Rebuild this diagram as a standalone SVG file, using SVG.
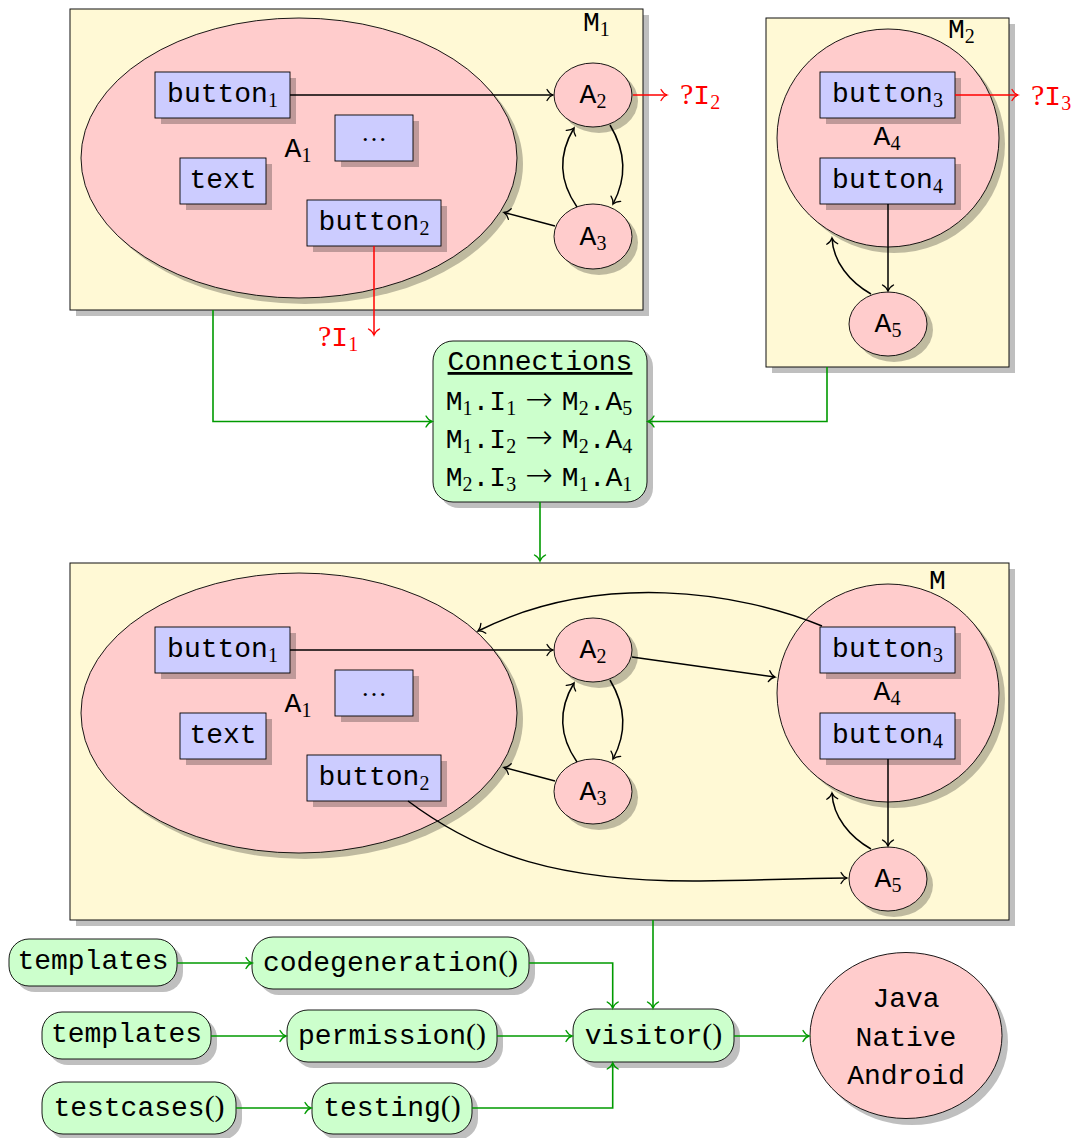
<svg xmlns="http://www.w3.org/2000/svg" width="1083" height="1138" viewBox="0 0 1083 1138">
  <defs>
    <style>
      .sh { fill: #000; fill-opacity: 0.25; stroke: none; }
      .mod { fill: #fff9d5; stroke: #111; stroke-width: 1; }
      .st { fill: #ffcccc; stroke: #000; stroke-width: 0.9; }
      .btn { fill: #ccccff; stroke: #000; stroke-width: 0.9; }
      .pill { fill: #ccffcc; stroke: #000; stroke-width: 0.9; }
      .tt { font-family: "Liberation Mono", "Courier New", monospace; font-size: 28px; fill: #000; }
      .mid { text-anchor: middle; }
      .sub { font-family: "Liberation Serif", "Times New Roman", serif; font-size: 20px; }
      .rm { font-family: "Liberation Serif", "Times New Roman", serif; }
      .arr { font-family: "DejaVu Sans", sans-serif; font-size: 33px; font-weight: 200; }
      .par { font-family: "Liberation Serif", "Times New Roman", serif; font-size: 30px; }
      .red { fill: #ff0000; }
      .k { fill: none; stroke: #000; stroke-width: 1.5; marker-end: url(#ak); }
      .r { fill: none; stroke: #ff0000; stroke-width: 1.5; marker-end: url(#ar); }
      .g { fill: none; stroke: #009a00; stroke-width: 1.6; marker-end: url(#ag); }
    </style>
    <marker id="ak" viewBox="-8 -7 10 14" refX="0" refY="0" markerWidth="10" markerHeight="14" markerUnits="userSpaceOnUse" orient="auto" overflow="visible">
      <path d="M-6,-5.5 C-4,-2 -1.5,-0.5 0,0 C-1.5,0.5 -4,2 -6,5.5" fill="none" stroke="#000" stroke-width="1.3" stroke-linecap="round"/>
    </marker>
    <marker id="ar" viewBox="-8 -7 10 14" refX="0" refY="0" markerWidth="10" markerHeight="14" markerUnits="userSpaceOnUse" orient="auto" overflow="visible">
      <path d="M-6,-5.5 C-4,-2 -1.5,-0.5 0,0 C-1.5,0.5 -4,2 -6,5.5" fill="none" stroke="#ff0000" stroke-width="1.3" stroke-linecap="round"/>
    </marker>
    <marker id="ag" viewBox="-8 -7 10 14" refX="0" refY="0" markerWidth="10" markerHeight="14" markerUnits="userSpaceOnUse" orient="auto" overflow="visible">
      <path d="M-6,-5.5 C-4,-2 -1.5,-0.5 0,0 C-1.5,0.5 -4,2 -6,5.5" fill="none" stroke="#009a00" stroke-width="1.4" stroke-linecap="round"/>
    </marker>
  </defs>

  <!-- module M1 -->
  <g id="M1">
    <rect class="sh" x="76" y="15" width="573" height="301"/>
    <rect class="mod" x="70" y="9" width="573" height="301"/>
    <text class="tt" x="583" y="31">M<tspan class="sub" dy="5">1</tspan></text>
  </g>
  <g id="M1-A1">
    <ellipse class="sh" cx="305" cy="164" rx="218" ry="140"/>
    <ellipse class="st" cx="299" cy="158" rx="218" ry="140"/>
    <text class="tt mid" x="298" y="157">A<tspan class="sub" dy="5">1</tspan></text>
  </g>
  <g id="M1-button1">
    <rect class="sh" x="161" y="78" width="135" height="46"/>
    <rect class="btn" x="155" y="72" width="135" height="46"/>
    <text class="tt mid" x="222.5" y="102">button<tspan class="sub" dy="5">1</tspan></text>
  </g>
  <g id="M1-dots">
    <rect class="sh" x="341" y="121" width="78" height="46"/>
    <rect class="btn" x="335" y="115" width="78" height="46"/>
    <text class="rm mid" x="374" y="141" font-size="26">…</text>
  </g>
  <g id="M1-text">
    <rect class="sh" x="186" y="164" width="86" height="46"/>
    <rect class="btn" x="180" y="158" width="86" height="46"/>
    <text class="tt mid" x="223" y="188">text</text>
  </g>
  <g id="M1-button2">
    <rect class="sh" x="313" y="206" width="134" height="46"/>
    <rect class="btn" x="307" y="200" width="134" height="46"/>
    <text class="tt mid" x="374" y="230">button<tspan class="sub" dy="5">2</tspan></text>
  </g>
  <g id="M1-A2">
    <ellipse class="sh" cx="599" cy="101" rx="39" ry="32"/>
    <ellipse class="st" cx="593" cy="95" rx="39" ry="32"/>
    <text class="tt mid" x="593" y="103">A<tspan class="sub" dy="5">2</tspan></text>
  </g>
  <g id="M1-A3">
    <ellipse class="sh" cx="599" cy="242.5" rx="39" ry="32.5"/>
    <ellipse class="st" cx="593" cy="236.5" rx="39" ry="32.5"/>
    <text class="tt mid" x="593" y="244.5">A<tspan class="sub" dy="5">3</tspan></text>
  </g>

  <!-- module M2 -->
  <g id="M2">
    <rect class="sh" x="772" y="24" width="243" height="349"/>
    <rect class="mod" x="766" y="18" width="243" height="349"/>
    <text class="tt" x="948" y="38">M<tspan class="sub" dy="5">2</tspan></text>
  </g>
  <g id="M2-A4">
    <ellipse class="sh" cx="894" cy="144" rx="111" ry="109"/>
    <ellipse class="st" cx="888" cy="138" rx="111" ry="109"/>
    <text class="tt mid" x="887" y="145">A<tspan class="sub" dy="5">4</tspan></text>
  </g>
  <g id="M2-button3">
    <rect class="sh" x="826" y="78" width="135" height="46"/>
    <rect class="btn" x="820" y="72" width="135" height="46"/>
    <text class="tt mid" x="887.5" y="102">button<tspan class="sub" dy="5">3</tspan></text>
  </g>
  <g id="M2-button4">
    <rect class="sh" x="826" y="164" width="135" height="46"/>
    <rect class="btn" x="820" y="158" width="135" height="46"/>
    <text class="tt mid" x="887.5" y="188">button<tspan class="sub" dy="5">4</tspan></text>
  </g>
  <g id="M2-A5">
    <ellipse class="sh" cx="894" cy="330" rx="39" ry="32"/>
    <ellipse class="st" cx="888" cy="324" rx="39" ry="32"/>
    <text class="tt mid" x="888" y="332">A<tspan class="sub" dy="5">5</tspan></text>
  </g>

  <!-- open interfaces -->
  <g id="I1"><text class="tt red" x="318" y="346"><tspan class="rm" font-size="30">?</tspan>I<tspan class="sub" dy="5">1</tspan></text></g>
  <g id="I2"><text class="tt red" x="680" y="104"><tspan class="rm" font-size="30">?</tspan>I<tspan class="sub" dy="5">2</tspan></text></g>
  <g id="I3"><text class="tt red" x="1031" y="105"><tspan class="rm" font-size="30">?</tspan>I<tspan class="sub" dy="5">3</tspan></text></g>

  <!-- connection table -->
  <g id="connections">
    <rect class="sh" x="439" y="347" width="214" height="161" rx="20"/>
    <rect class="pill" x="433" y="341" width="214" height="161" rx="20"/>
    <text class="tt mid" x="540" y="370" text-decoration="underline">Connections</text>
    <text class="tt mid" x="539" y="410">M<tspan class="sub" dy="5">1</tspan><tspan dy="-5">.I</tspan><tspan class="sub" dy="5">1</tspan><tspan class="arr" dy="-5" dx="9">→</tspan><tspan dx="9">M</tspan><tspan class="sub" dy="5">2</tspan><tspan dy="-5">.A</tspan><tspan class="sub" dy="5">5</tspan></text>
    <text class="tt mid" x="539" y="448">M<tspan class="sub" dy="5">1</tspan><tspan dy="-5">.I</tspan><tspan class="sub" dy="5">2</tspan><tspan class="arr" dy="-5" dx="9">→</tspan><tspan dx="9">M</tspan><tspan class="sub" dy="5">2</tspan><tspan dy="-5">.A</tspan><tspan class="sub" dy="5">4</tspan></text>
    <text class="tt mid" x="539" y="486">M<tspan class="sub" dy="5">2</tspan><tspan dy="-5">.I</tspan><tspan class="sub" dy="5">3</tspan><tspan class="arr" dy="-5" dx="9">→</tspan><tspan dx="9">M</tspan><tspan class="sub" dy="5">1</tspan><tspan dy="-5">.A</tspan><tspan class="sub" dy="5">1</tspan></text>
  </g>

  <!-- merged module M -->
  <g id="M">
    <rect class="sh" x="76" y="569" width="939" height="357"/>
    <rect class="mod" x="70" y="563" width="939" height="357"/>
    <text class="tt" x="929" y="589">M</text>
  </g>
  <g id="M-A1" transform="translate(0,555)">
    <ellipse class="sh" cx="305" cy="164" rx="218" ry="140"/>
    <ellipse class="st" cx="299" cy="158" rx="218" ry="140"/>
    <text class="tt mid" x="298" y="157">A<tspan class="sub" dy="5">1</tspan></text>
  </g>
  <g id="M-button1" transform="translate(0,555)">
    <rect class="sh" x="161" y="78" width="135" height="46"/>
    <rect class="btn" x="155" y="72" width="135" height="46"/>
    <text class="tt mid" x="222.5" y="102">button<tspan class="sub" dy="5">1</tspan></text>
  </g>
  <g id="M-dots" transform="translate(0,555)">
    <rect class="sh" x="341" y="121" width="78" height="46"/>
    <rect class="btn" x="335" y="115" width="78" height="46"/>
    <text class="rm mid" x="374" y="141" font-size="26">…</text>
  </g>
  <g id="M-text" transform="translate(0,555)">
    <rect class="sh" x="186" y="164" width="86" height="46"/>
    <rect class="btn" x="180" y="158" width="86" height="46"/>
    <text class="tt mid" x="223" y="188">text</text>
  </g>
  <g id="M-button2" transform="translate(0,555)">
    <rect class="sh" x="313" y="206" width="134" height="46"/>
    <rect class="btn" x="307" y="200" width="134" height="46"/>
    <text class="tt mid" x="374" y="230">button<tspan class="sub" dy="5">2</tspan></text>
  </g>
  <g id="M-A2" transform="translate(0,555)">
    <ellipse class="sh" cx="599" cy="101" rx="39" ry="32"/>
    <ellipse class="st" cx="593" cy="95" rx="39" ry="32"/>
    <text class="tt mid" x="593" y="103">A<tspan class="sub" dy="5">2</tspan></text>
  </g>
  <g id="M-A3" transform="translate(0,555)">
    <ellipse class="sh" cx="599" cy="242.5" rx="39" ry="32.5"/>
    <ellipse class="st" cx="593" cy="236.5" rx="39" ry="32.5"/>
    <text class="tt mid" x="593" y="244.5">A<tspan class="sub" dy="5">3</tspan></text>
  </g>
  <g id="M-A4" transform="translate(0,555)">
    <ellipse class="sh" cx="894" cy="144" rx="111" ry="109"/>
    <ellipse class="st" cx="888" cy="138" rx="111" ry="109"/>
    <text class="tt mid" x="887" y="145">A<tspan class="sub" dy="5">4</tspan></text>
  </g>
  <g id="M-button3" transform="translate(0,555)">
    <rect class="sh" x="826" y="78" width="135" height="46"/>
    <rect class="btn" x="820" y="72" width="135" height="46"/>
    <text class="tt mid" x="887.5" y="102">button<tspan class="sub" dy="5">3</tspan></text>
  </g>
  <g id="M-button4" transform="translate(0,555)">
    <rect class="sh" x="826" y="164" width="135" height="46"/>
    <rect class="btn" x="820" y="158" width="135" height="46"/>
    <text class="tt mid" x="887.5" y="188">button<tspan class="sub" dy="5">4</tspan></text>
  </g>
  <g id="M-A5" transform="translate(0,555)">
    <ellipse class="sh" cx="894" cy="330" rx="39" ry="32"/>
    <ellipse class="st" cx="888" cy="324" rx="39" ry="32"/>
    <text class="tt mid" x="888" y="332">A<tspan class="sub" dy="5">5</tspan></text>
  </g>

  <!-- generation pipeline -->
  <g id="templates1">
    <rect class="sh" x="15" y="945" width="168" height="47" rx="20"/>
    <rect class="pill" x="9" y="939" width="168" height="47" rx="20"/>
    <text class="tt mid" x="93" y="969">templates</text>
  </g>
  <g id="codegeneration">
    <rect class="sh" x="258" y="943" width="277" height="52" rx="21"/>
    <rect class="pill" x="252" y="937" width="277" height="52" rx="21"/>
    <text class="tt mid" x="390.5" y="971">codegeneration<tspan class="par">()</tspan></text>
  </g>
  <g id="templates2">
    <rect class="sh" x="48" y="1018" width="169" height="47" rx="20"/>
    <rect class="pill" x="42" y="1012" width="169" height="47" rx="20"/>
    <text class="tt mid" x="126.5" y="1042">templates</text>
  </g>
  <g id="permission">
    <rect class="sh" x="293" y="1016" width="210" height="52" rx="21"/>
    <rect class="pill" x="287" y="1010" width="210" height="52" rx="21"/>
    <text class="tt mid" x="392" y="1044">permission<tspan class="par">()</tspan></text>
  </g>
  <g id="testcases">
    <rect class="sh" x="48" y="1088" width="194" height="52" rx="21"/>
    <rect class="pill" x="42" y="1082" width="194" height="52" rx="21"/>
    <text class="tt mid" x="139" y="1116">testcases<tspan class="par">()</tspan></text>
  </g>
  <g id="testing">
    <rect class="sh" x="318" y="1089" width="160" height="51" rx="21"/>
    <rect class="pill" x="312" y="1083" width="160" height="51" rx="21"/>
    <text class="tt mid" x="392" y="1116">testing<tspan class="par">()</tspan></text>
  </g>
  <g id="visitor">
    <rect class="sh" x="579" y="1015" width="161" height="53" rx="21"/>
    <rect class="pill" x="573" y="1009" width="161" height="53" rx="21"/>
    <text class="tt mid" x="653.5" y="1044">visitor<tspan class="par">()</tspan></text>
  </g>
  <g id="target">
    <ellipse class="sh" cx="912" cy="1042" rx="96" ry="83"/>
    <ellipse class="st" cx="906" cy="1035.5" rx="96" ry="83"/>
    <text class="tt mid" x="906" y="1007">Java</text>
    <text class="tt mid" x="906" y="1045.5">Native</text>
    <text class="tt mid" x="906" y="1084">Android</text>
  </g>

  <!-- connectors -->
  <g id="connectors">
    <!-- M1 -->
    <path class="k" d="M290,95 H553"/>
    <path class="k" d="M610,125 Q634,165 613,204"/>
    <path class="k" d="M577,207 Q550,168 574,128"/>
    <path class="k" d="M555,226 L504,212.5"/>
    <path class="r" d="M633,95 H667"/>
    <path class="r" d="M374,246 V335"/>
    <!-- M2 -->
    <path class="k" d="M888,204 V291"/>
    <path class="k" d="M871,294 C850,282 833,262 832,238"/>
    <path class="r" d="M955,95 H1018"/>
    <!-- module composition -->
    <path class="g" d="M213,310 V421.5 H432"/>
    <path class="g" d="M827,367 V421.5 H648"/>
    <path class="g" d="M540,502 V561"/>
    <!-- M -->
    <path class="k" d="M290,650 H553"/>
    <path class="k" d="M610,680 Q634,720 613,759"/>
    <path class="k" d="M577,762 Q550,723 574,683"/>
    <path class="k" d="M555,781 L504,767.5"/>
    <path class="k" d="M888,759 V846"/>
    <path class="k" d="M871,849 C850,837 833,817 832,793"/>
    <path class="k" d="M822,626 C740,592 600,570 478,631"/>
    <path class="k" d="M632,657 L775,677"/>
    <path class="k" d="M408,801 C480,855 560,882 700,881 C770,880 810,878 847,878"/>
    <!-- pipeline -->
    <path class="g" d="M653,920 V1008"/>
    <path class="g" d="M177,963 H252"/>
    <path class="g" d="M529,963 H612.7 V1008"/>
    <path class="g" d="M211,1036 H286"/>
    <path class="g" d="M497,1036 H572"/>
    <path class="g" d="M236,1108 H311"/>
    <path class="g" d="M472,1108 H612.7 V1063"/>
    <path class="g" d="M734,1036 H809"/>
  </g>
</svg>
